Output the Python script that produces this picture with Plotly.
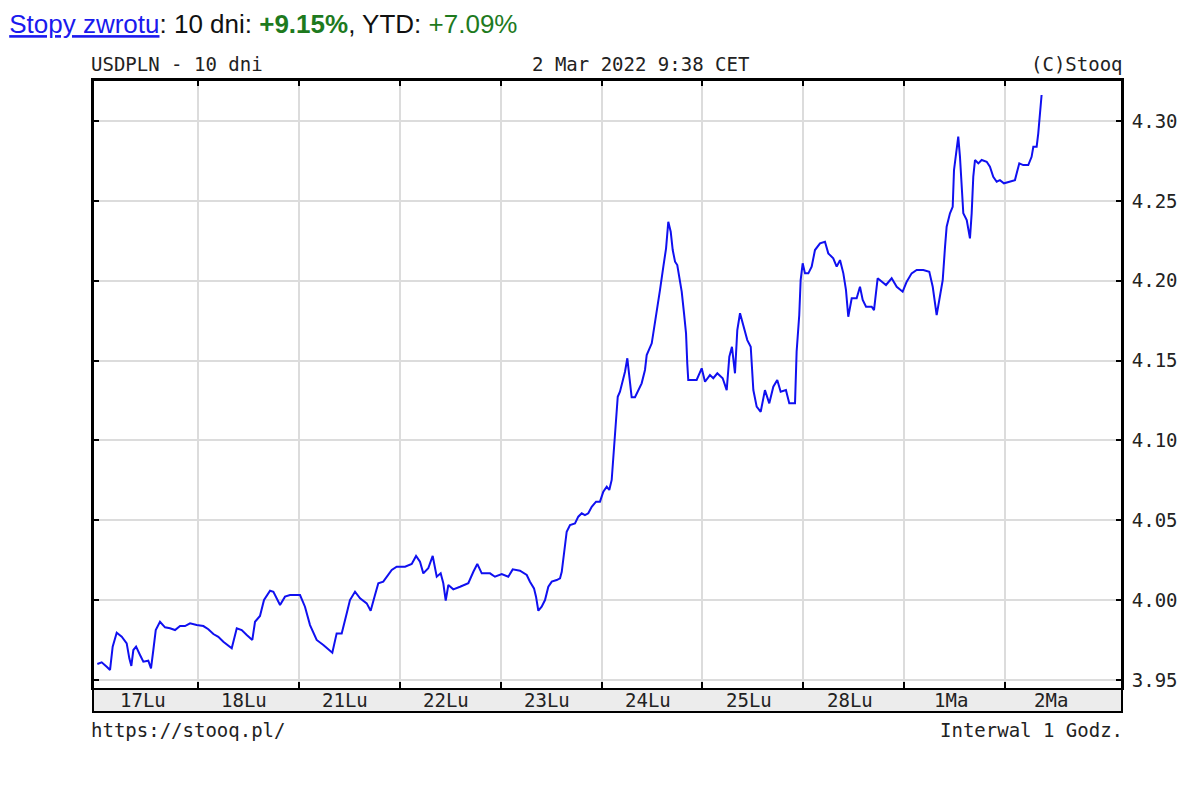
import plotly.graph_objects as go

# --- data (USDPLN, hourly, 10 days) ---
# position in trading days from the start of 17 Feb (gridlines sit at day boundaries)
day_pos = [
    0.003, 0.046, 0.096, 0.129, 0.155, 0.195, 0.245, 0.294, 0.320, 0.340,
    0.360, 0.387, 0.426, 0.459, 0.508, 0.535, 0.558, 0.582, 0.624, 0.674,
    0.723, 0.773, 0.823, 0.872, 0.922, 0.988, 1.054, 1.103, 1.153, 1.202,
    1.252, 1.335, 1.385, 1.434, 1.484, 1.539, 1.566, 1.615, 1.655, 1.715,
    1.748, 1.814, 1.863, 1.913, 2.012, 2.061, 2.111, 2.177, 2.243, 2.332,
    2.375, 2.425, 2.475, 2.507, 2.557, 2.607, 2.673, 2.712, 2.755, 2.788,
    2.837, 2.921, 2.970, 3.053, 3.119, 3.162, 3.201, 3.234, 3.283, 3.327,
    3.367, 3.406, 3.432, 3.456, 3.482, 3.531, 3.598, 3.680, 3.730, 3.769,
    3.813, 3.895, 3.944, 4.011, 4.076, 4.120, 4.192, 4.225, 4.259, 4.291,
    4.331, 4.351, 4.374, 4.407, 4.440, 4.473, 4.507, 4.556, 4.589, 4.606,
    4.621, 4.638, 4.655, 4.688, 4.737, 4.770, 4.804, 4.836, 4.869, 4.903,
    4.946, 4.985, 5.018, 5.052, 5.077, 5.101, 5.117, 5.144, 5.161, 5.183,
    5.210, 5.233, 5.256, 5.276, 5.299, 5.332, 5.365, 5.398, 5.431, 5.448,
    5.498, 5.530, 5.553, 5.580, 5.613, 5.640, 5.662, 5.686, 5.706, 5.729,
    5.751, 5.771, 5.795, 5.818, 5.838, 5.850, 5.860, 5.943, 5.993, 6.026,
    6.075, 6.108, 6.148, 6.201, 6.241, 6.267, 6.293, 6.323, 6.346, 6.373,
    6.412, 6.445, 6.479, 6.505, 6.538, 6.578, 6.620, 6.663, 6.703, 6.742,
    6.776, 6.828, 6.861, 6.918, 6.934, 6.960, 6.974, 6.994, 7.017, 7.050,
    7.083, 7.116, 7.166, 7.215, 7.248, 7.297, 7.331, 7.364, 7.397, 7.423,
    7.446, 7.480, 7.529, 7.562, 7.589, 7.622, 7.678, 7.701, 7.737, 7.777,
    7.820, 7.876, 7.926, 7.985, 8.025, 8.074, 8.124, 8.190, 8.249, 8.283,
    8.305, 8.322, 8.348, 8.382, 8.405, 8.421, 8.454, 8.481, 8.494, 8.521,
    8.536, 8.553, 8.570, 8.586, 8.620, 8.636, 8.652, 8.669, 8.685, 8.702,
    8.735, 8.768, 8.818, 8.850, 8.883, 8.917, 8.949, 8.989, 9.049, 9.098,
    9.141, 9.180, 9.230, 9.263, 9.280, 9.313, 9.329, 9.346, 9.362,
]

usdpln = [
    3.9599, 3.9610, 3.9582, 3.9562, 3.9708, 3.9795, 3.9770, 3.9729, 3.9635, 3.9587,
    3.9687, 3.9708, 3.9656, 3.9614, 3.9620, 3.9572, 3.9687, 3.9812, 3.9864, 3.9829,
    3.9823, 3.9812, 3.9837, 3.9837, 3.9854, 3.9843, 3.9837, 3.9817, 3.9787, 3.9770,
    3.9739, 3.9698, 3.9823, 3.9812, 3.9781, 3.9750, 3.9864, 3.9900, 4.0000, 4.0058,
    4.0052, 3.9969, 4.0021, 4.0031, 4.0031, 3.9958, 3.9843, 3.9750, 3.9718, 3.9670,
    3.9791, 3.9791, 3.9917, 4.0000, 4.0052, 4.0011, 3.9979, 3.9933, 4.0031, 4.0105,
    4.0115, 4.0188, 4.0209, 4.0209, 4.0226, 4.0276, 4.0240, 4.0167, 4.0199, 4.0276,
    4.0146, 4.0167, 4.0105, 3.9996, 4.0094, 4.0067, 4.0083, 4.0105, 4.0177, 4.0226,
    4.0167, 4.0167, 4.0146, 4.0163, 4.0146, 4.0192, 4.0184, 4.0171, 4.0157, 4.0115,
    4.0073, 4.0021, 3.9933, 3.9958, 4.0000, 4.0083, 4.0115, 4.0125, 4.0136, 4.0177,
    4.0251, 4.0334, 4.0428, 4.0470, 4.0480, 4.0522, 4.0543, 4.0532, 4.0543, 4.0584,
    4.0616, 4.0616, 4.0678, 4.0710, 4.0689, 4.0752, 4.0898, 4.1148, 4.1273, 4.1305,
    4.1367, 4.1430, 4.1514, 4.1399, 4.1270, 4.1270, 4.1315, 4.1357, 4.1441, 4.1534,
    4.1608, 4.1733, 4.1848, 4.1942, 4.2088, 4.2203, 4.2369, 4.2307, 4.2192, 4.2119,
    4.2098, 4.2025, 4.1931, 4.1796, 4.1670, 4.1482, 4.1378, 4.1378, 4.1451, 4.1367,
    4.1409, 4.1389, 4.1420, 4.1389, 4.1315, 4.1524, 4.1586, 4.1420, 4.1691, 4.1796,
    4.1702, 4.1628, 4.1586, 4.1315, 4.1211, 4.1179, 4.1315, 4.1232, 4.1336, 4.1378,
    4.1305, 4.1315, 4.1232, 4.1232, 4.1555, 4.1785, 4.2004, 4.2109, 4.2046, 4.2046,
    4.2088, 4.2192, 4.2234, 4.2244, 4.2171, 4.2140, 4.2088, 4.2129, 4.2046, 4.1942,
    4.1774, 4.1890, 4.1890, 4.1962, 4.1879, 4.1837, 4.1837, 4.1816, 4.2015, 4.1994,
    4.1973, 4.2015, 4.1962, 4.1931, 4.1994, 4.2046, 4.2067, 4.2067, 4.2056, 4.1962,
    4.1858, 4.1785, 4.1879, 4.2004, 4.2213, 4.2338, 4.2422, 4.2463, 4.2693, 4.2818,
    4.2902, 4.2776, 4.2547, 4.2422, 4.2380, 4.2317, 4.2265, 4.2422, 4.2651, 4.2756,
    4.2735, 4.2756, 4.2745, 4.2714, 4.2651, 4.2620, 4.2630, 4.2610, 4.2620, 4.2630,
    4.2735, 4.2724, 4.2724, 4.2776, 4.2839, 4.2839, 4.2923, 4.3069, 4.3163,
]

day_labels = ["17Lu", "18Lu", "21Lu", "22Lu", "23Lu", "24Lu", "25Lu", "28Lu", "1Ma", "2Ma"]
day_bounds = [1, 2, 3, 4, 5, 6, 7, 8, 9]
y_ticks = [3.95, 4.00, 4.05, 4.10, 4.15, 4.20, 4.25, 4.30]
y_tick_text = ["3.95", "4.00", "4.05", "4.10", "4.15", "4.20", "4.25", "4.30"]

MONO = "DejaVu Sans Mono"
TXT = "#222222"
FS = 19

header = ("<span style='color:#1a1aee'><u>Stopy zwrotu</u></span>: 10 dni: "
          "<b><span style='color:#1e7a1e'>+9.15%</span></b>, YTD: "
          "<span style='color:#1e7a1e'>+7.09%</span>")

fig = go.Figure()
fig.add_trace(go.Scatter(
    x=day_pos, y=usdpln, mode="lines",
    line=dict(color="#1010f0", width=2),
    hoverinfo="skip", showlegend=False,
))

# the page body adds an 8px offset; plot area lands at x 93..1122, y 80..688
fig.update_layout(
    width=1200, height=800,
    margin=dict(l=85, r=86, t=72, b=120),
    paper_bgcolor="white", plot_bgcolor="white",
    showlegend=False,
    title=dict(text=header, xref="container", yref="container",
               x=0.001, xanchor="left", y=1 - 16 / 800, yanchor="middle",
               pad=dict(l=0, r=0, t=0, b=0),
               font=dict(family="Liberation Sans, Arial", size=26, color="#111111")),
    xaxis=dict(
        range=[-0.04, 10.159], tickvals=day_bounds, showticklabels=False,
        showgrid=True, gridcolor="#dcdcdc", gridwidth=2,
        ticks="inside", ticklen=6, tickwidth=1.5, tickcolor="black",
        showline=True, linecolor="black", linewidth=2, mirror="ticks",
        zeroline=False, fixedrange=True,
    ),
    yaxis=dict(
        range=[3.9449, 4.3257], side="right",
        tickvals=y_ticks, ticktext=y_tick_text,
        showgrid=True, gridcolor="#dcdcdc", gridwidth=2,
        ticks="inside", ticklen=6, tickwidth=1.5, tickcolor="black",
        showline=True, linecolor="black", linewidth=2, mirror="ticks",
        zeroline=False, fixedrange=True, ticklabelstandoff=4,
        tickfont=dict(family=MONO, size=FS, color=TXT),
    ),
)

strip_bottom = -24 / 608
fig.add_shape(type="rect", xref="paper", yref="paper", x0=0, x1=1, y0=strip_bottom, y1=0,
              fillcolor="#ececec", line=dict(width=0), layer="below")
fig.add_shape(type="rect", xref="paper", yref="paper", x0=0, x1=1, y0=strip_bottom, y1=1,
              fillcolor="rgba(0,0,0,0)", line=dict(color="black", width=2), layer="above")

for i, lab in enumerate(day_labels):
    fig.add_annotation(x=i + 0.46, y=-12 / 608, xref="x", yref="paper", text=lab,
                       showarrow=False, xanchor="center", yanchor="middle",
                       font=dict(family=MONO, size=FS, color=TXT))

def note(text, px, py, anchor, font):
    fig.add_annotation(x=(px - 93) / 1029, y=(688 - py) / 608, xref="paper", yref="paper",
                       text=text, showarrow=False, xanchor=anchor, yanchor="middle", font=font)

mono = dict(family=MONO, size=FS, color=TXT)
note("USDPLN - 10 dni", 89, 64, "left", mono)
note("2 Mar 2022 9:38 CET", 640, 64, "center", mono)
note("(C)Stooq", 1125, 64, "right", mono)
note("https://stooq.pl/", 89, 730, "left", mono)
note("Interwal 1 Godz.", 1125, 730, "right", mono)

fig.write_html("out.html")
